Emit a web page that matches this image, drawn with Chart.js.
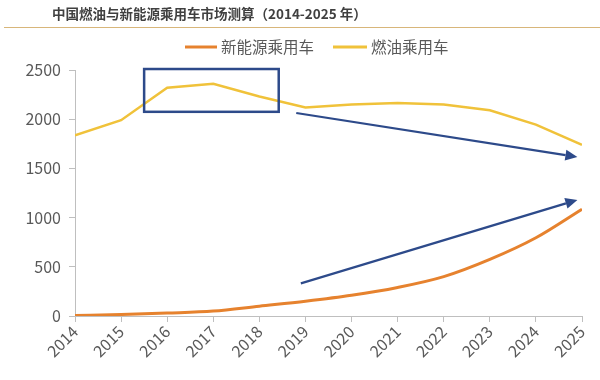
<!DOCTYPE html>
<html>
<head>
<meta charset="utf-8">
<script src="https://cdn.jsdelivr.net/npm/chart.js@4"></script>
<style>
html,body{margin:0;padding:0;background:#fff;}
#wrap{position:relative;width:600px;height:380px;}
</style>
</head>
<body>
<div id="wrap"><canvas id="c" width="600" height="380"></canvas></div>
<script>
const years = [2014,2015,2016,2017,2018,2019,2020,2021,2022,2023,2024,2025];
const nevSales = [5,15,30,50,100,150,210,290,400,575,795,1085];
const fuelSales = [1835,1990,2320,2360,2230,2120,2150,2165,2150,2090,1945,1740];
const yTicks = [0,500,1000,1500,2000,2500];
const seriesNames = ['新能源乘用车','燃油乘用车'];
const titleText = '中国燃油与新能源乘用车市场测算（2014-2025 年）';

// annotations in data coordinates
const highlightBox = {x0:2015.5, x1:2018.42, y0:2075, y1:2510};
const trendArrows = [
  {x0:2018.8, y0:2063, x1:2024.9, y1:1616},
  {x0:2018.9, y0:332, x1:2024.9, y1:1180}
];

const FONT = "'Noto Sans CJK SC','Noto Sans',sans-serif";
const ANN_COLOR = '#2d4a8a';

const headerPlugin = {
  id:'header',
  afterDraw(chart){
    const ctx = chart.ctx;
    ctx.save();
    ctx.fillStyle = '#404040';
    ctx.font = "bold 13.5px " + FONT;
    ctx.textBaseline = 'middle';
    ctx.textAlign = 'left';
    ctx.fillText(titleText, 52, 14);
    ctx.strokeStyle = '#d8b67a';
    ctx.lineWidth = 1.2;
    ctx.beginPath();
    ctx.moveTo(4, 27.5);
    ctx.lineTo(600, 27.5);
    ctx.stroke();
    // legend
    const items = [{x:185, w:32}, {x:333, w:34}];
    ctx.font = "15.5px " + FONT;
    ctx.lineWidth = 3;
    chart.data.datasets.forEach((ds, i)=>{
      const it = items[i];
      ctx.strokeStyle = ds.borderColor;
      ctx.beginPath();
      ctx.moveTo(it.x, 47);
      ctx.lineTo(it.x + it.w, 47);
      ctx.stroke();
      ctx.fillStyle = '#595959';
      ctx.fillText(ds.label, it.x + it.w + 4, 47);
    });
    ctx.restore();
  }
};

const annotationPlugin = {
  id:'ann',
  afterDatasetsDraw(chart){
    const ctx = chart.ctx, xs = chart.scales.x, ys = chart.scales.y;
    ctx.save();
    ctx.strokeStyle = ANN_COLOR;
    ctx.fillStyle = ANN_COLOR;
    ctx.lineWidth = 2.5;
    const bx0 = xs.getPixelForValue(highlightBox.x0), bx1 = xs.getPixelForValue(highlightBox.x1);
    const by0 = ys.getPixelForValue(highlightBox.y1), by1 = ys.getPixelForValue(highlightBox.y0);
    ctx.strokeRect(bx0, by0, bx1-bx0, by1-by0);
    ctx.lineWidth = 2.2;
    trendArrows.forEach(a=>{
      const px0 = xs.getPixelForValue(a.x0), py0 = ys.getPixelForValue(a.y0);
      const px1 = xs.getPixelForValue(a.x1), py1 = ys.getPixelForValue(a.y1);
      const ang = Math.atan2(py1-py0, px1-px0);
      const L = 12, W = 5.5;
      const bxp = px1 - L*Math.cos(ang), byp = py1 - L*Math.sin(ang);
      ctx.beginPath();
      ctx.moveTo(px0, py0);
      ctx.lineTo(bxp, byp);
      ctx.stroke();
      ctx.beginPath();
      ctx.moveTo(px1, py1);
      ctx.lineTo(bxp + W*Math.sin(ang), byp - W*Math.cos(ang));
      ctx.lineTo(bxp - W*Math.sin(ang), byp + W*Math.cos(ang));
      ctx.closePath();
      ctx.fill();
    });
    ctx.restore();
  }
};

new Chart(document.getElementById('c'), {
  type:'line',
  data:{
    datasets:[
      {label:seriesNames[0], data:years.map((y,i)=>({x:y,y:nevSales[i]})), borderColor:'#e6822e', backgroundColor:'#e6822e', borderWidth:3, pointRadius:0, tension:0.35, cubicInterpolationMode:'monotone'},
      {label:seriesNames[1], data:years.map((y,i)=>({x:y,y:fuelSales[i]})), borderColor:'#f0c23a', backgroundColor:'#f0c23a', borderWidth:2.5, pointRadius:0, tension:0}
    ]
  },
  options:{
    responsive:false,
    animation:false,
    layout:{padding:{left:0,right:18,top:70,bottom:4}},
    plugins:{
      legend:{display:false},
      tooltip:{enabled:false},
      title:{display:false}
    },
    scales:{
      x:{
        type:'linear', min:2014, max:2025,
        afterBuildTicks(s){ s.ticks = years.map(v=>({value:v})); },
        afterFit(s){ s.height = 60; },
        ticks:{color:'#595959', font:{family:FONT, size:16}, minRotation:45, maxRotation:45, autoSkip:false, padding:0, callback:v=>String(v)},
        grid:{display:true, drawOnChartArea:false, drawTicks:true, tickLength:6, color:'#bfbfbf'},
        border:{color:'#bfbfbf', width:1}
      },
      y:{
        min:0, max:2500,
        afterBuildTicks(s){ s.ticks = yTicks.map(v=>({value:v})); },
        afterFit(s){ s.width = 75; },
        ticks:{color:'#595959', font:{family:FONT, size:16}, padding:8, callback:v=>String(v)},
        grid:{display:true, drawOnChartArea:false, drawTicks:true, tickLength:6, color:'#bfbfbf'},
        border:{color:'#bfbfbf', width:1}
      }
    }
  },
  plugins:[headerPlugin, annotationPlugin]
});
</script>
</body>
</html>
